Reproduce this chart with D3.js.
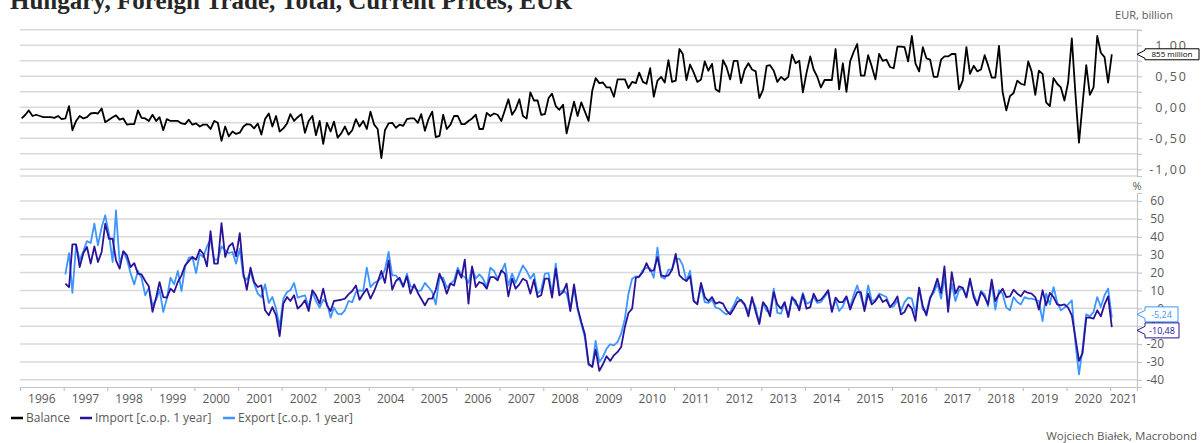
<!DOCTYPE html>
<html>
<head>
<meta charset="UTF-8">
<title>Hungary, Foreign Trade</title>
<script src="https://cdn.jsdelivr.net/npm/d3@7"></script>
<style>
  body { margin: 0; background: #fff; }
  svg text { font-family: "Open Sans", "DejaVu Sans", sans-serif; }
</style>
</head>
<body>
<svg id="chart" width="1203" height="443"></svg>
<script>
// ---------- data (monthly) ----------
var balanceStart = "1996-01";
var flowStart = "1997-01";

// trade balance, EUR billion
var balance = [
  -0.18,-0.12,-0.05,-0.14,-0.12,-0.14,-0.16,-0.16,-0.16,-0.17,-0.14,-0.19,
  -0.18,0.02,-0.37,-0.22,-0.14,-0.18,-0.16,-0.10,-0.09,-0.10,-0.02,-0.24,
  -0.20,-0.16,-0.13,-0.20,-0.18,-0.28,-0.27,-0.27,-0.05,-0.17,-0.18,-0.22,
  -0.12,-0.22,-0.16,-0.37,-0.19,-0.22,-0.22,-0.22,-0.26,-0.27,-0.20,-0.28,
  -0.26,-0.31,-0.28,-0.28,-0.35,-0.22,-0.25,-0.54,-0.31,-0.47,-0.39,-0.43,
  -0.41,-0.31,-0.27,-0.28,-0.34,-0.26,-0.44,-0.19,-0.10,-0.31,-0.14,-0.39,
  -0.34,-0.26,-0.11,-0.22,-0.16,-0.11,-0.41,-0.22,-0.14,-0.45,-0.22,-0.59,
  -0.25,-0.39,-0.23,-0.49,-0.42,-0.31,-0.44,-0.37,-0.19,-0.31,-0.22,-0.35,
  -0.07,-0.28,-0.35,-0.82,-0.37,-0.26,-0.25,-0.33,-0.28,-0.30,-0.19,-0.18,
  -0.18,-0.25,-0.11,-0.38,-0.19,-0.07,-0.48,-0.46,-0.12,-0.35,-0.28,-0.14,
  -0.14,-0.27,-0.27,-0.22,-0.18,-0.12,-0.35,-0.35,-0.09,-0.14,-0.10,-0.12,
  -0.22,-0.04,0.13,-0.12,-0.03,0.13,-0.14,-0.18,0.24,0.11,0.11,-0.12,
  -0.11,0.15,0.22,0.02,-0.04,0.04,-0.42,-0.16,0.09,-0.14,0.08,-0.07,
  -0.22,0.27,0.47,0.39,0.40,0.32,0.32,0.17,0.45,0.45,0.45,0.31,
  0.41,0.39,0.56,0.41,0.38,0.63,0.17,0.43,0.49,0.40,0.76,0.41,
  0.43,0.94,0.86,0.44,0.69,0.56,0.41,0.45,0.74,0.59,0.70,0.29,
  0.25,0.76,0.65,0.45,0.75,0.75,0.39,0.61,0.71,0.61,0.58,0.15,
  0.28,0.67,0.68,0.59,0.41,0.49,0.44,0.49,0.85,0.71,0.75,0.24,
  0.56,0.82,0.61,0.49,0.32,0.44,0.44,0.44,0.94,0.29,0.71,0.25,
  0.74,0.90,1.02,0.51,0.51,0.84,0.66,0.45,0.86,0.75,0.77,0.65,
  0.63,0.98,0.98,0.97,0.74,1.15,0.71,0.58,0.97,0.79,0.77,0.49,
  0.49,0.77,0.82,0.82,0.86,0.86,0.29,0.43,0.97,0.54,0.67,0.58,
  0.61,0.84,0.68,0.48,0.48,0.99,0.25,-0.05,0.18,0.23,0.43,0.38,
  0.36,0.74,0.58,0.20,0.59,0.54,0.08,0.02,0.47,0.38,0.32,0.11,
  0.40,1.11,0.25,-0.57,0.05,0.68,0.20,0.32,1.15,0.88,0.81,0.40,
  0.855
];

// import, % change on 1 year earlier
var importYoY = [
  13.8,11.9,35.8,35.8,23.1,30.9,34.3,25.0,34.6,25.9,31.5,47.3,
  38.9,38.9,26.8,22.2,32.0,29.6,23.1,25.3,19.4,19.0,15.3,12.3,
  -2.0,6.3,14.7,6.3,6.0,11.0,9.1,14.7,18.4,24.0,26.4,28.7,
  27.2,32.8,30.5,23.5,43.2,25.0,25.0,47.7,28.7,34.6,36.5,29.1,
  42.1,19.4,10.4,22.7,14.7,11.9,12.8,-1.1,-3.9,0.7,-3.9,-15.6,
  2.6,6.3,4.1,7.3,-0.2,1.7,4.5,-1.5,10.1,7.3,2.6,11.0,
  1.7,-1.5,4.1,4.5,4.8,5.4,7.8,9.7,12.8,4.8,8.2,11.0,
  5.4,9.7,14.7,20.9,14.2,26.8,10.4,15.3,17.1,12.3,17.9,8.2,
  13.4,8.6,5.4,1.7,5.4,5.4,10.4,19.4,14.7,8.2,13.8,12.8,
  21.2,17.1,27.2,2.6,23.5,11.9,14.7,13.8,11.0,17.5,17.5,15.6,
  21.2,19.4,6.7,16.6,11.0,13.4,16.6,15.3,8.2,16.0,6.3,7.3,
  16.6,16.6,6.0,22.2,7.3,9.1,13.8,-1.5,13.4,0.4,-7.6,-14.5,
  -30.9,-32.8,-23.1,-35.0,-31.3,-26.8,-29.4,-26.3,-24.4,-21.6,-10.4,-2.6,
  -0.2,17.1,17.9,20.3,25.3,20.9,21.2,28.7,18.4,17.9,18.4,21.6,
  30.5,18.4,16.6,15.3,18.0,4.0,2.2,14.2,6.3,4.1,6.3,2.6,
  3.5,2.6,-1.1,-3.4,-0.2,3.5,4.8,2.2,-4.5,6.3,-2.0,-8.6,
  3.5,0.7,-4.5,9.1,2.2,-0.2,3.5,-4.8,6.0,4.1,-1.1,7.8,
  -0.2,0.7,8.2,4.1,4.8,7.3,10.1,-2.0,6.0,3.5,3.5,6.7,
  -0.7,4.8,9.1,9.1,-1.5,8.2,2.2,4.1,7.3,3.5,4.8,0.7,
  3.0,6.7,-3.4,-2.0,2.2,-0.2,-7.0,11.5,1.1,-3.9,5.4,10.4,
  16.6,8.6,23.5,-2.0,20.3,8.2,12.3,11.5,6.3,16.6,6.3,1.7,
  9.1,6.3,2.2,16.0,4.1,8.2,11.0,6.3,6.7,10.4,8.2,6.7,
  9.7,8.6,8.2,6.3,-0.7,10.1,1.7,8.6,6.3,2.2,1.7,2.2,
  0.4,-3.9,-16.0,-29.4,-25.0,-5.2,-5.2,-5.8,-1.1,-4.5,2.2,6.7,
  -10.48
];

// export, % change on 1 year earlier
var exportYoY = [
  19.0,30.9,8.6,35.2,26.8,32.0,37.6,36.5,47.3,35.2,45.4,52.0,
  41.7,25.9,54.7,25.0,31.5,27.2,19.7,13.4,20.9,17.1,7.3,11.5,
  1.7,4.8,10.4,-2.0,5.4,17.1,13.4,20.9,9.7,23.1,28.3,28.7,
  19.7,30.5,28.7,34.6,38.4,27.2,27.2,34.6,32.4,30.9,31.5,25.0,
  33.3,17.5,16.0,20.3,13.8,8.2,6.3,13.4,3.0,6.3,-0.2,-10.4,
  5.4,9.1,10.1,14.2,6.0,6.7,7.3,0.7,9.1,4.1,0.4,4.8,
  3.0,-5.2,0.4,-3.0,-3.4,-1.1,4.1,3.5,9.1,10.1,9.7,22.7,
  11.9,14.2,15.3,17.1,21.6,31.5,18.4,18.4,15.6,11.9,19.4,12.3,
  11.9,9.7,10.1,14.2,11.9,9.1,2.2,17.1,17.1,11.5,13.8,15.6,
  22.7,18.4,17.5,14.2,22.7,16.6,19.0,16.6,11.9,22.7,20.9,16.6,
  20.3,25.0,12.8,19.4,14.2,19.4,24.0,20.9,16.6,19.4,8.2,10.4,
  19.4,19.7,7.8,25.0,9.1,10.1,8.2,-0.7,11.0,-0.7,-8.6,-16.4,
  -31.8,-32.4,-18.2,-30.0,-27.2,-22.5,-20.1,-20.7,-18.8,-14.2,-5.8,8.2,
  16.6,17.9,17.5,21.6,22.7,22.2,17.1,33.9,17.5,16.6,21.6,21.6,
  27.7,27.7,24.0,15.3,21.0,4.1,3.0,12.8,3.5,3.0,4.8,0.4,
  -0.2,-2.0,-3.4,-2.0,1.7,6.3,4.1,1.7,-2.0,4.8,0.7,-8.9,
  3.0,-1.5,-2.0,11.0,-2.6,-3.0,3.0,-4.8,6.7,2.2,1.1,8.6,
  2.6,3.5,6.3,3.0,3.5,6.3,9.1,-1.5,4.8,-1.5,1.1,6.3,
  0.7,7.8,12.8,6.3,-0.2,12.8,4.1,4.8,8.2,7.3,6.3,0.7,
  1.1,4.5,-1.5,3.5,6.0,5.4,-3.0,11.5,-0.7,-2.0,6.3,8.6,
  13.8,5.4,17.5,0.4,13.8,4.1,10.1,11.5,6.0,15.3,7.8,2.6,
  9.7,7.8,1.1,14.2,-0.7,10.1,8.2,0.4,-1.1,6.3,3.5,2.2,
  6.3,5.4,5.4,4.8,4.1,-7.1,8.2,2.2,11.9,3.5,-1.1,0.4,
  2.2,4.5,-18.8,-36.9,-22.5,-3.4,-4.5,-2.0,6.3,0.7,7.3,11.0,
  -5.24
];

var yearLabels = ["1996","1997","1998","1999","2000","2001","2002","2003","2004","2005","2006","2007","2008",
                  "2009","2010","2011","2012","2013","2014","2015","2016","2017","2018","2019","2020","2021"];
var balanceTicks = [-1, -0.75, -0.5, -0.25, 0, 0.25, 0.5, 0.75, 1, 1.25];
var balanceLabels = [-1, -0.5, 0, 0.5, 1];
var pctTicks = [-40, -30, -20, -10, 0, 10, 20, 30, 40, 50, 60];
var seriesNames = ["Balance", "Import [c.o.p. 1 year]", "Export [c.o.p. 1 year]"];
var seriesColors = ["#000000", "#2a1299", "#3d95ff"];
var balanceCallout = "855 million";

// ---------- setup ----------
var svg = d3.select("#chart");
var W = 1203, H = 443;
var plotL = 20, plotR = 1137;
var topY0 = 29.8, topY1 = 176;
var botY0 = 193, botY1 = 387;
var gridCol = "#d9d9d9", axisCol = "#c4c4c4", txtCol = "#595959";

var loc = d3.formatLocale({decimal: ",", thousands: " ", grouping: [3], currency: ["", ""], minus: "-"});
var f2 = loc.format(".2f");
var f0 = loc.format("d");

var parseM = d3.timeParse("%Y-%m");
function monthDates(start, n) {
  var s = parseM(start);
  return d3.range(n).map(function (i) { return d3.timeDay.offset(d3.timeMonth.offset(s, i), 14); });
}
var balDates = monthDates(balanceStart, balance.length);
var flowDates = monthDates(flowStart, importYoY.length);

var x = d3.scaleTime()
  .domain([new Date(1996, 0, 1), new Date(2021, 7, 14)])
  .range([plotL, plotR]);
var yTop = d3.scaleLinear().domain([-1.108, 1.25]).range([topY1, topY0]);
var yBot = d3.scaleLinear().domain([-44, 64.5]).range([botY1, botY0]);

// title (cut off at top like the original)
svg.append("text")
  .attr("x", 10).attr("y", 9)
  .style("font-family", "'Liberation Serif', 'DejaVu Serif', serif")
  .style("font-weight", "bold").style("font-size", "25px")
  .attr("fill", "#262626")
  .text("Hungary, Foreign Trade, Total, Current Prices, EUR");

// ---------- gridlines ----------
svg.append("g").selectAll("line").data(balanceTicks).enter().append("line")
  .attr("x1", plotL).attr("x2", plotR)
  .attr("y1", function (d) { return yTop(d); }).attr("y2", function (d) { return yTop(d); })
  .attr("stroke", gridCol).attr("stroke-width", 1.5);
svg.append("line").attr("x1", plotL).attr("x2", plotR).attr("y1", topY1).attr("y2", topY1)
  .attr("stroke", gridCol).attr("stroke-width", 1.5);

svg.append("g").selectAll("line").data(pctTicks).enter().append("line")
  .attr("x1", plotL).attr("x2", plotR)
  .attr("y1", function (d) { return yBot(d); }).attr("y2", function (d) { return yBot(d); })
  .attr("stroke", gridCol).attr("stroke-width", 1.5);

// ---------- right axes ----------
var axTop = svg.append("g").attr("transform", "translate(" + plotR + ",0)")
  .call(d3.axisRight(yTop).tickValues(balanceTicks).tickSize(5).tickFormat(""));
var axBot = svg.append("g").attr("transform", "translate(" + plotR + ",0)")
  .call(d3.axisRight(yBot).tickValues(pctTicks).tickSize(5).tickFormat(""));
[axTop, axBot].forEach(function (a) {
  a.select(".domain").attr("stroke", axisCol).attr("stroke-width", 1.2);
  a.selectAll(".tick line").attr("stroke", axisCol).attr("stroke-width", 1.2);
});

svg.append("g").selectAll("text").data(balanceLabels).enter().append("text")
  .attr("x", 1188).attr("y", function (d) { return yTop(d); })
  .attr("dy", "0.35em").attr("text-anchor", "end")
  .attr("fill", txtCol).style("font-size", "12.5px").style("letter-spacing", "2px")
  .text(function (d) { return f2(d); });
svg.append("g").selectAll("text").data(pctTicks).enter().append("text")
  .attr("x", 1164).attr("y", function (d) { return yBot(d); })
  .attr("dy", "0.35em").attr("text-anchor", "end")
  .attr("fill", txtCol).style("font-size", "12px")
  .text(function (d) { return f0(d); });

svg.append("text").attr("x", 1144).attr("y", 19).attr("text-anchor", "middle")
  .attr("fill", txtCol).style("font-size", "11px").text("EUR, billion");
svg.append("text").attr("x", 1137).attr("y", 190).attr("text-anchor", "middle")
  .attr("fill", txtCol).style("font-size", "11px").text("%");

// ---------- x axis ----------
var yearStarts = yearLabels.map(function (y) { return new Date(+y, 0, 1); });
var axX = svg.append("g").attr("transform", "translate(0," + botY1 + ")")
  .call(d3.axisBottom(x).tickValues(yearStarts).tickSize(4).tickFormat(""));
axX.select(".domain").attr("stroke", axisCol).attr("stroke-width", 1.2);
axX.selectAll(".tick line").attr("stroke", axisCol).attr("stroke-width", 1.2);

svg.append("g").selectAll("text").data(yearLabels).enter().append("text")
  .attr("x", function (d) {
    var a = x(new Date(+d, 0, 1)), b = Math.min(x(new Date(+d + 1, 0, 1)), plotR);
    return (a + b) / 2;
  })
  .attr("y", 403).attr("text-anchor", "middle")
  .attr("fill", txtCol).style("font-size", "12px")
  .text(function (d) { return d; });

// ---------- lines ----------
var lineTop = d3.line().x(function (d) { return x(d[0]); }).y(function (d) { return yTop(d[1]); });
var lineBot = d3.line().x(function (d) { return x(d[0]); }).y(function (d) { return yBot(d[1]); });

svg.append("path").datum(d3.zip(balDates, balance))
  .attr("d", lineTop).attr("fill", "none")
  .attr("stroke", seriesColors[0]).attr("stroke-width", 1.8).attr("stroke-linejoin", "round");
svg.append("path").datum(d3.zip(flowDates, exportYoY))
  .attr("d", lineBot).attr("fill", "none")
  .attr("stroke", seriesColors[2]).attr("stroke-width", 1.8).attr("stroke-linejoin", "round");
svg.append("path").datum(d3.zip(flowDates, importYoY))
  .attr("d", lineBot).attr("fill", "none")
  .attr("stroke", seriesColors[1]).attr("stroke-width", 1.8).attr("stroke-linejoin", "round");

// ---------- value callouts ----------
function callout(cy, label, stroke, textFill, w, h, fs) {
  var bx = plotR + 8, top = cy - h / 2, a = Math.min(4, h / 2 - 1);
  var g = svg.append("g");
  g.append("path")
    .attr("d", "M" + plotR + "," + cy + "L" + bx + "," + (cy - a) + "L" + bx + "," + top +
      "L" + (bx + w) + "," + top + "L" + (bx + w) + "," + (top + h) + "L" + bx + "," + (top + h) +
      "L" + bx + "," + (cy + a) + "Z")
    .attr("fill", "#fff").attr("stroke", stroke).attr("stroke-width", 1);
  g.append("text").attr("x", bx + w / 2).attr("y", cy).attr("dy", "0.35em")
    .attr("text-anchor", "middle").attr("fill", textFill).style("font-size", fs + "px").text(label);
}
callout(yTop(balance[balance.length - 1]), balanceCallout, "#000", "#000", 54, 11, 8);

// spread the two percentage callouts so the boxes do not overlap
var lastExp = exportYoY[exportYoY.length - 1], lastImp = importYoY[importYoY.length - 1];
var ce = yBot(lastExp), ci = yBot(lastImp), bh = 15;
if (Math.abs(ci - ce) < bh + 1) {
  var mid = (ce + ci) / 2, s = ce < ci ? -1 : 1;
  ce = mid + s * (bh + 1) / 2; ci = mid - s * (bh + 1) / 2;
}
callout(ce, f2(lastExp), seriesColors[2], seriesColors[2], 33, bh, 9);
callout(ci, f2(lastImp), seriesColors[1], seriesColors[1], 34, bh, 9);

// ---------- legend ----------
var legX = [10, 79, 222];
var leg = svg.append("g").selectAll("g").data(seriesNames).enter().append("g")
  .attr("transform", function (d, i) { return "translate(" + legX[i] + ",418)"; });
leg.append("line").attr("x1", 1).attr("x2", 13).attr("y1", 0).attr("y2", 0)
  .attr("stroke", function (d, i) { return seriesColors[i]; }).attr("stroke-width", 2.5);
leg.append("text").attr("x", 16).attr("y", 0).attr("dy", "0.35em")
  .attr("fill", txtCol).style("font-size", "12px").text(function (d) { return d; });

svg.append("text").attr("x", 1197).attr("y", 440).attr("text-anchor", "end")
  .attr("fill", txtCol).style("font-size", "11.5px").text("Wojciech Białek, Macrobond");
</script>
</body>
</html>
